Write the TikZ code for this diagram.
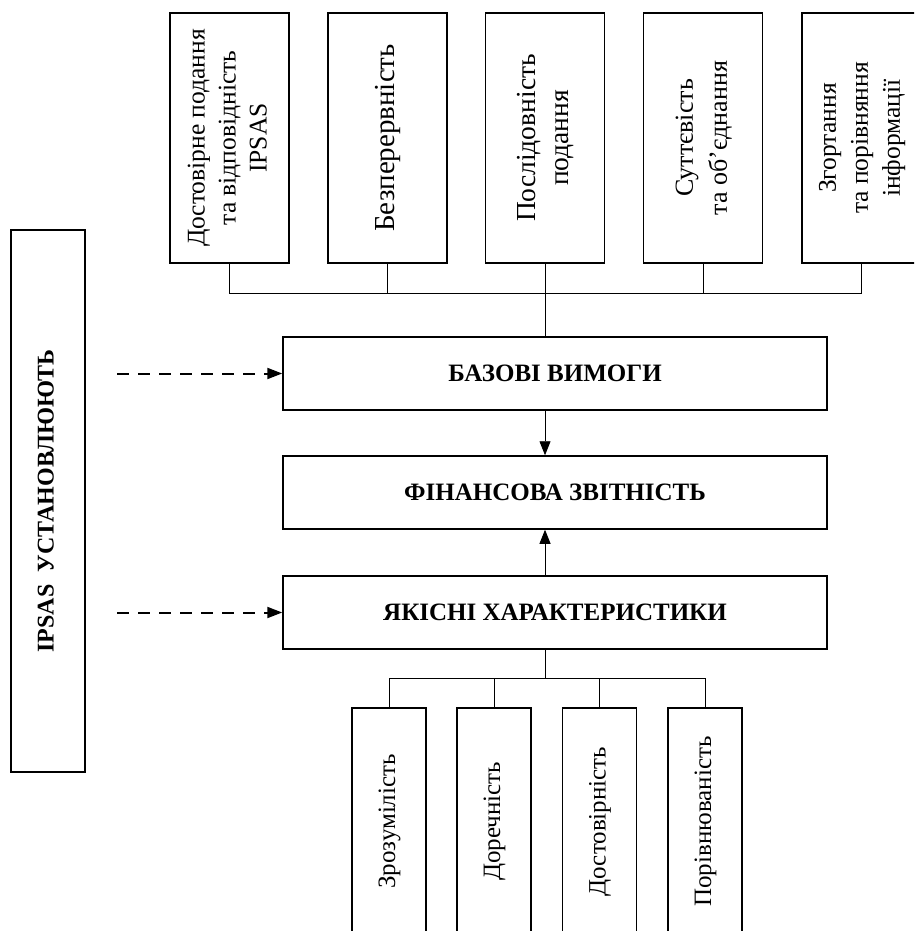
\documentclass[tikz,border=0pt]{standalone}
\usepackage{fontspec}
\setmainfont{Liberation Serif}
\usetikzlibrary{arrows.meta}
% stacked lines of text, turned to read from bottom to top
\newcommand{\upright}[1]{\rotatebox{90}{\begin{tabular}{@{}c@{}}#1\end{tabular}}}
\newcommand{\fsz}[2]{\fontsize{#1}{#2}\selectfont}
\begin{document}
\begin{tikzpicture}[x=1pt,y=-1pt,
  frame/.style={draw, line width=1.5pt, inner sep=0pt, fill=white},
  topbox/.style={frame, minimum width=119pt, minimum height=250pt},
  midbox/.style={frame, minimum width=544pt, minimum height=73pt,
    font=\bfseries\fsz{25}{29}},
  lowbox/.style={frame, minimum width=74pt, minimum height=227pt,
    font=\fsz{25}{30}},
  sidebox/.style={frame, minimum width=74pt, minimum height=542pt,
    font=\bfseries\fsz{24}{28}},
  link/.style={line width=0.8pt},
  flow/.style={link, -{Triangle[length=14pt,width=11pt]}},
  feed/.style={line width=2pt, dash pattern=on 12pt off 9pt,
    -{Triangle[length=15pt,width=11pt]}},
]
\clip (0,0) rectangle (914,931);

% upper row: the basic requirements
\node[topbox, font=\fsz{25.5}{31}] (t1) at (229.5,138)
  {\upright{Достовірне подання\\та відповідність\\IPSAS}};
\node[topbox, font=\fsz{29}{33}] (t2) at (387.5,138) {\upright{Безперервність}};
\node[topbox, font=\fsz{27.5}{33}] (t3) at (545,138) {\upright{Послідовність\\подання}};
\node[topbox, font=\fsz{26}{34}] (t4) at (703,138) {\upright{Суттєвість\\та об’єднання}};
\node[topbox, font=\fsz{25.5}{32}] (t5) at (861.5,138)
  {\upright{Згортання\\та порівняння\\інформації}};

% central column
\node[midbox] (bv) at (555,373.5) {БАЗОВІ ВИМОГИ};
\node[midbox] (fz) at (555,492.5) {ФІНАНСОВА ЗВІТНІСТЬ};
\node[midbox] (yx) at (555,612.5) {ЯКІСНІ ХАРАКТЕРИСТИКИ};

% lower row: the qualitative characteristics
\node[lowbox] (b1) at (389,821.5) {\upright{Зрозумілість}};
\node[lowbox] (b2) at (494,821.5) {\upright{Доречність}};
\node[lowbox] (b3) at (599.5,821.5) {\upright{Достовірність}};
\node[lowbox] (b4) at (705,821.5) {\upright{Порівнюваність}};

% left bar
\node[sidebox] (ip) at (48,501) {\upright{IPSAS\ \ УСТАНОВЛЮЮТЬ}};

% bus lines
\coordinate (topbus) at (0,293);
\coordinate (lowbus) at (0,678);
\coordinate (feedx) at (117,0);

\draw[link] (t1.south) -- (t1.south |- topbus) -- (t5.south |- topbus) -- (t5.south);
\foreach \n in {t2,t3,t4} \draw[link] (\n.south) -- (\n.south |- topbus);
\draw[link] (t3.south |- topbus) -- (t3.south |- bv.north);

\draw[flow] (t3.south |- bv.south) -- (t3.south |- fz.north);
\draw[flow] (t3.south |- yx.north) -- (t3.south |- fz.south);

\draw[link] (t3.south |- yx.south) -- (t3.south |- lowbus);
\draw[link] (b1.north) -- (b1.north |- lowbus) -- (b4.north |- lowbus) -- (b4.north);
\foreach \n in {b2,b3} \draw[link] (\n.north) -- (\n.north |- lowbus);

% dashed feeds from the left bar
\draw[feed] (feedx |- bv.west) -- (bv.west);
\draw[feed] (feedx |- yx.west) -- (yx.west);
\end{tikzpicture}
\end{document}
